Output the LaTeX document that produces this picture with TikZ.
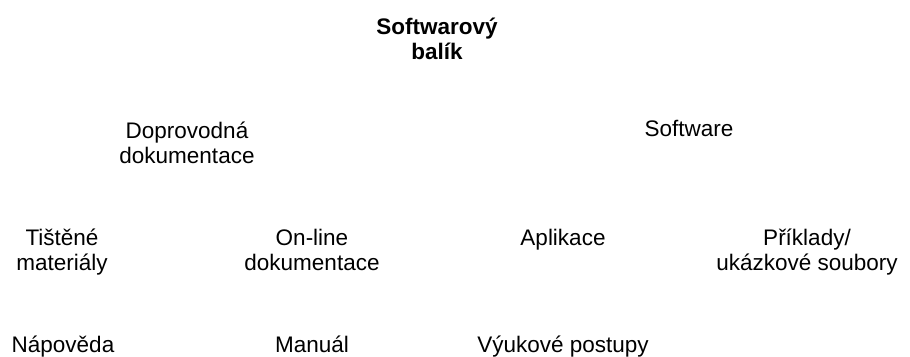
\documentclass[tikz,border=0pt]{standalone}
\usepackage{fontspec}
\setmainfont{Liberation Sans}
\begin{document}
\begin{tikzpicture}[x=1pt,y=-1pt,
  lbl/.style={inner sep=0pt, anchor=base, align=center, font=\fontsize{22.5}{25.5}\selectfont},
  rootlbl/.style={lbl, font=\fontsize{22.5}{25}\selectfont\bfseries}]
\useasboundingbox (0,0) rectangle (910,356);
\node[rootlbl] (root) at (437,59) {Softwarový\\balík};
\node[lbl] (doc) at (187,163.5) {Doprovodná\\dokumentace};
\node[lbl] (sw) at (689,136) {Software};
\node[lbl] (print) at (62,270.5) {Tištěné\\materiály};
\node[lbl] (online) at (312,270.5) {On-line\\dokumentace};
\node[lbl] (app) at (563,245) {Aplikace};
\node[lbl] (ex) at (807,270.5) {Příklady/\\ukázkové soubory};
\node[lbl] (help) at (63,352) {Nápověda};
\node[lbl] (man) at (312,352) {Manuál};
\node[lbl] (tut) at (563,352) {Výukové postupy};
\end{tikzpicture}
\end{document}
